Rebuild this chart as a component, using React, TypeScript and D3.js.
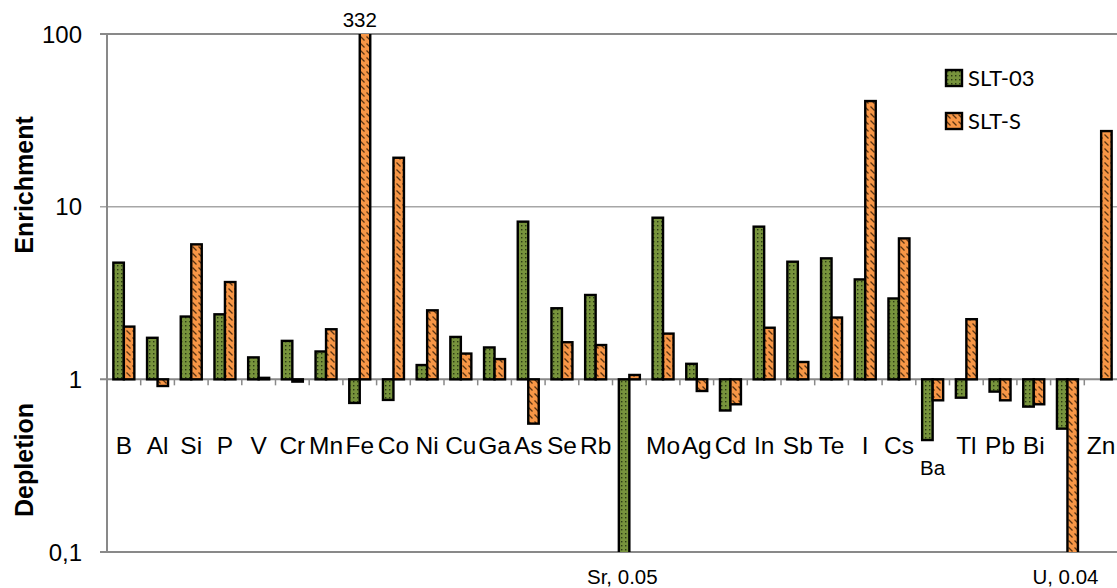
import React from "react";
import * as d3 from "d3";

const categories = ["B","Al","Si","P","V","Cr","Mn","Fe","Co","Ni","Cu","Ga","As","Se","Rb","Sr","Mo","Ag","Cd","In","Sb","Te","I","Cs","Ba","Tl","Pb","Bi","U","Zn"];
// labels shown on axis (Sr and U are annotated at the bottom instead, Ba is shown lower)
const axisLabels = ["B","Al","Si","P","V","Cr","Mn","Fe","Co","Ni","Cu","Ga","As","Se","Rb","","Mo","Ag","Cd","In","Sb","Te","I","Cs","","Tl","Pb","Bi","","Zn"];
const seriesNames = ["SLT-03", "SLT-S"];
const slt03: (number | null)[] = [4.74,1.74,2.31,2.38,1.34,1.67,1.45,0.73,0.76,1.21,1.76,1.53,8.19,2.58,3.08,0.05,8.63,1.23,0.66,7.66,4.8,5.02,3.79,2.94,0.445,0.783,0.849,0.695,0.518,null];
const sltS: (number | null)[] = [2.02,0.915,6.05,3.66,1.02,0.97,1.95,332,19.2,2.51,1.41,1.31,0.554,1.64,1.58,1.06,1.84,0.856,0.717,1.99,1.26,2.28,40.9,6.55,0.756,2.23,0.756,0.717,0.04,27.4];
const yTicks = [100, 10, 1, 0.1];
const yTickLabels = ["100", "10", "1", "0,1"];
const annotations = [
  { cat: "Fe", text: "332", pos: "top" },
  { cat: "Sr", text: "Sr, 0.05", pos: "bottom" },
  { cat: "U", text: "U, 0.04", pos: "bottom" },
  { cat: "Ba", text: "Ba", pos: "low" },
];

const W = 1117, H = 588;
const left = 107, right = 1118, top = 34, bottom = 552;

export default function App() {
  const x = d3.scaleBand<string>().domain(categories).range([left, right]).paddingInner(0).paddingOuter(0);
  const sub = d3.scaleBand<string>().domain(seriesNames).range([-10.5, 10.5]);
  const y = d3.scaleLog().domain([0.1, 100]).range([bottom, top]);
  const y1 = y(1);
  const font = "'Liberation Sans', Arial, sans-serif";
  const series = [
    { name: seriesNames[0], values: slt03, fill: "url(#patGreen)" },
    { name: seriesNames[1], values: sltS, fill: "url(#patOrange)" },
  ];
  const cx = (c: string) => (x(c) as number) + x.bandwidth() / 2;
  return (
    <svg width={W} height={H} style={{ position: "absolute", left: 0, top: 0, background: "#fff" }}>
      <defs>
        <pattern id="patGreen" width="4" height="4" patternUnits="userSpaceOnUse">
          <rect width="4" height="4" fill="#77933C" />
          <rect x="1" y="1" width="1.4" height="1.4" fill="#2a3a12" />
        </pattern>
        <pattern id="patOrange" width="6" height="7" patternUnits="userSpaceOnUse">
          <rect width="6" height="7" fill="#F79646" />
          <path d="M0.5,1.5 L4.5,5.5" stroke="#5a3412" strokeWidth="1.3" />
        </pattern>
        <clipPath id="plotClip">
          <rect x={left} y={top} width={right - left} height={bottom - top} />
        </clipPath>
      </defs>
      {/* gridlines */}
      {yTicks.map((t) => (
        <line key={"g" + t} x1={left - 7} x2={W} y1={y(t)} y2={y(t)} stroke={t === 10 ? "#a6a6a6" : "#898989"} strokeWidth={t === 10 ? 1.5 : 2} />
      ))}
      {/* left axis */}
      <line x1={left} x2={left} y1={top} y2={bottom} stroke="#898989" strokeWidth={2} />
      {/* x ticks at y=1 */}
      {categories.map((c, i) => (
        <line key={"xt" + i} x1={x(c) as number} x2={x(c) as number} y1={y1} y2={y1 + 6} stroke="#898989" strokeWidth={1.5} />
      ))}
      {/* bars */}
      <g clipPath="url(#plotClip)">
        {series.map((s) =>
          s.values.map((v, i) => {
            if (v == null) return null;
            const c = categories[i];
            const bx = cx(c) + (sub(s.name) as number);
            const yv = y(Math.max(0.01, Math.min(1000, v)));
            const y0 = Math.min(yv, y1), h = Math.abs(yv - y1);
            return <rect key={s.name + i} x={bx} y={y0} width={sub.bandwidth()} height={h} fill={s.fill} stroke="#000" strokeWidth={2.4} />;
          })
        )}
      </g>
      {/* y tick labels */}
      {yTicks.map((t, i) => (
        <text key={"yl" + t} x={82} y={y(t)} dy="0.36em" textAnchor="end" fontFamily={font} fontSize={24} fill="#000">{yTickLabels[i]}</text>
      ))}
      {/* category labels */}
      {axisLabels.map((l, i) => l ? (
        <text key={"cl" + i} x={cx(categories[i])} y={454} textAnchor="middle" fontFamily={font} fontSize={24.5} fill="#000">{l}</text>
      ) : null)}
      {annotations.map((a) => {
        const px = cx(a.cat);
        const py = a.pos === "top" ? 26.5 : a.pos === "bottom" ? 584 : 475;
        const fs = a.pos === "low" ? 20.5 : 20.5;
        return <text key={"an" + a.text} x={a.pos === "bottom" && a.cat === "Sr" ? px - 7 : a.pos === "bottom" ? px - 2 : px} y={py} textAnchor="middle" fontFamily={font} fontSize={fs} fill="#000">{a.text}</text>;
      })}
      {/* axis titles */}
      <text transform={`translate(33,185) rotate(-90)`} textAnchor="middle" fontFamily={font} fontWeight="bold" fontSize={25} fill="#000">Enrichment</text>
      <text transform={`translate(33,460) rotate(-90)`} textAnchor="middle" fontFamily={font} fontWeight="bold" fontSize={25} fill="#000">Depletion</text>
      {/* legend */}
      {series.map((s, i) => (
        <g key={"lg" + i} transform={`translate(946,${70 + i * 43})`}>
          <rect x={0} y={0} width={16} height={16} fill={s.fill} stroke="#000" strokeWidth={2.4} />
          <text x={22} y={15.5} fontFamily="Lato, 'Open Sans', sans-serif" fontSize={22} fill="#000">{s.name}</text>
        </g>
      ))}
    </svg>
  );
}
